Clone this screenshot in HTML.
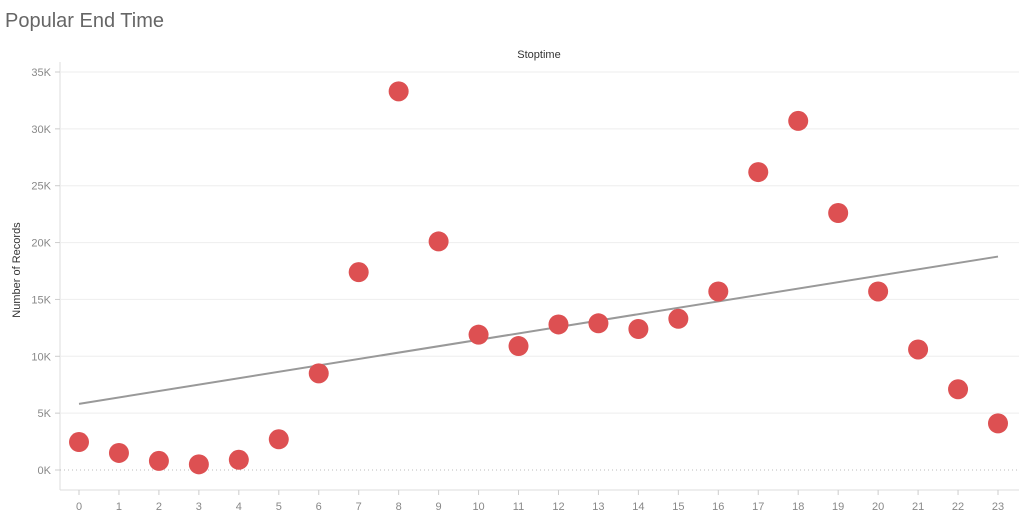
<!DOCTYPE html>
<html><head><meta charset="utf-8"><style>
body{margin:0;background:#fff;font-family:"Liberation Sans",sans-serif}
svg text{font-family:"Liberation Sans",sans-serif}
</style></head><body>
<svg id="c" width="1019" height="513">
<text x="5" y="27" font-size="20" fill="#666">Popular End Time</text>
<text x="539" y="58" font-size="11" fill="#333" text-anchor="middle">Stoptime</text>
<text transform="translate(20,270) rotate(-90)" font-size="11" fill="#333" text-anchor="middle">Number of Records</text>
<g id="grid"></g><g id="trend"></g><g id="dots"></g>
</svg>
<script>
const hours=[0,1,2,3,4,5,6,7,8,9,10,11,12,13,14,15,16,17,18,19,20,21,22,23];
const records=[2460,1500,800,500,900,2700,8500,17400,33300,20100,11900,10900,12800,12900,12400,13300,15700,26200,30700,22600,15700,10600,7100,4100];
const yTicks=[0,5000,10000,15000,20000,25000,30000,35000];
const yTickLabels=["0K","5K","10K","15K","20K","25K","30K","35K"];
const NS="http://www.w3.org/2000/svg";
const xs=h=>79+h*(919/23);
const ys=v=>470-v/35000*398;
function mk(tag,attrs,parent){const e=document.createElementNS(NS,tag);for(const k in attrs)e.setAttribute(k,attrs[k]);parent.appendChild(e);return e;}
const grid=document.getElementById('grid');
mk('line',{x1:60,y1:62,x2:60,y2:490,stroke:'#ddd'},grid);
mk('line',{x1:60,y1:490,x2:1019,y2:490,stroke:'#ddd'},grid);
yTicks.forEach((t,i)=>{
  const y=ys(t);
  const l=mk('line',{x1:60,y1:y,x2:1019,y2:y,stroke:t===0?'#bbb':'#eee','stroke-dasharray':t===0?'1,3':''},grid);
  
  
  mk('line',{x1:55,y1:y,x2:60,y2:y,stroke:'#ccc'},grid);
  const tx=mk('text',{x:51,y:y+4,'font-size':11,fill:'#888','text-anchor':'end'},grid);
  tx.textContent=yTickLabels[i];
  
  
});
hours.forEach(h=>{
  const x=xs(h);
  mk('line',{x1:x,y1:490,x2:x,y2:495,stroke:'#ccc'},grid);
  const tx=mk('text',{x:x,y:510,'font-size':11,fill:'#888','text-anchor':'middle'},grid);
  tx.textContent=h;
  
  
});
const n=hours.length;let sx=0,sy=0,sxy=0,sxx=0;
hours.forEach((h,i)=>{sx+=h;sy+=records[i];sxy+=h*records[i];sxx+=h*h;});
const b=(n*sxy-sx*sy)/(n*sxx-sx*sx),a=(sy-b*sx)/n;
const tl=mk('line',{x1:xs(hours[0]),y1:ys(a+b*hours[0]),x2:xs(hours[n-1]),y2:ys(a+b*hours[n-1]),stroke:'#999','stroke-width':2},document.getElementById('trend'));


const dots=document.getElementById('dots');
hours.forEach((h,i)=>{
  const c=mk('circle',{cx:xs(h),cy:ys(records[i]),r:10,fill:'#dd5052'},dots);
  
  
});
</script>
</body></html>
